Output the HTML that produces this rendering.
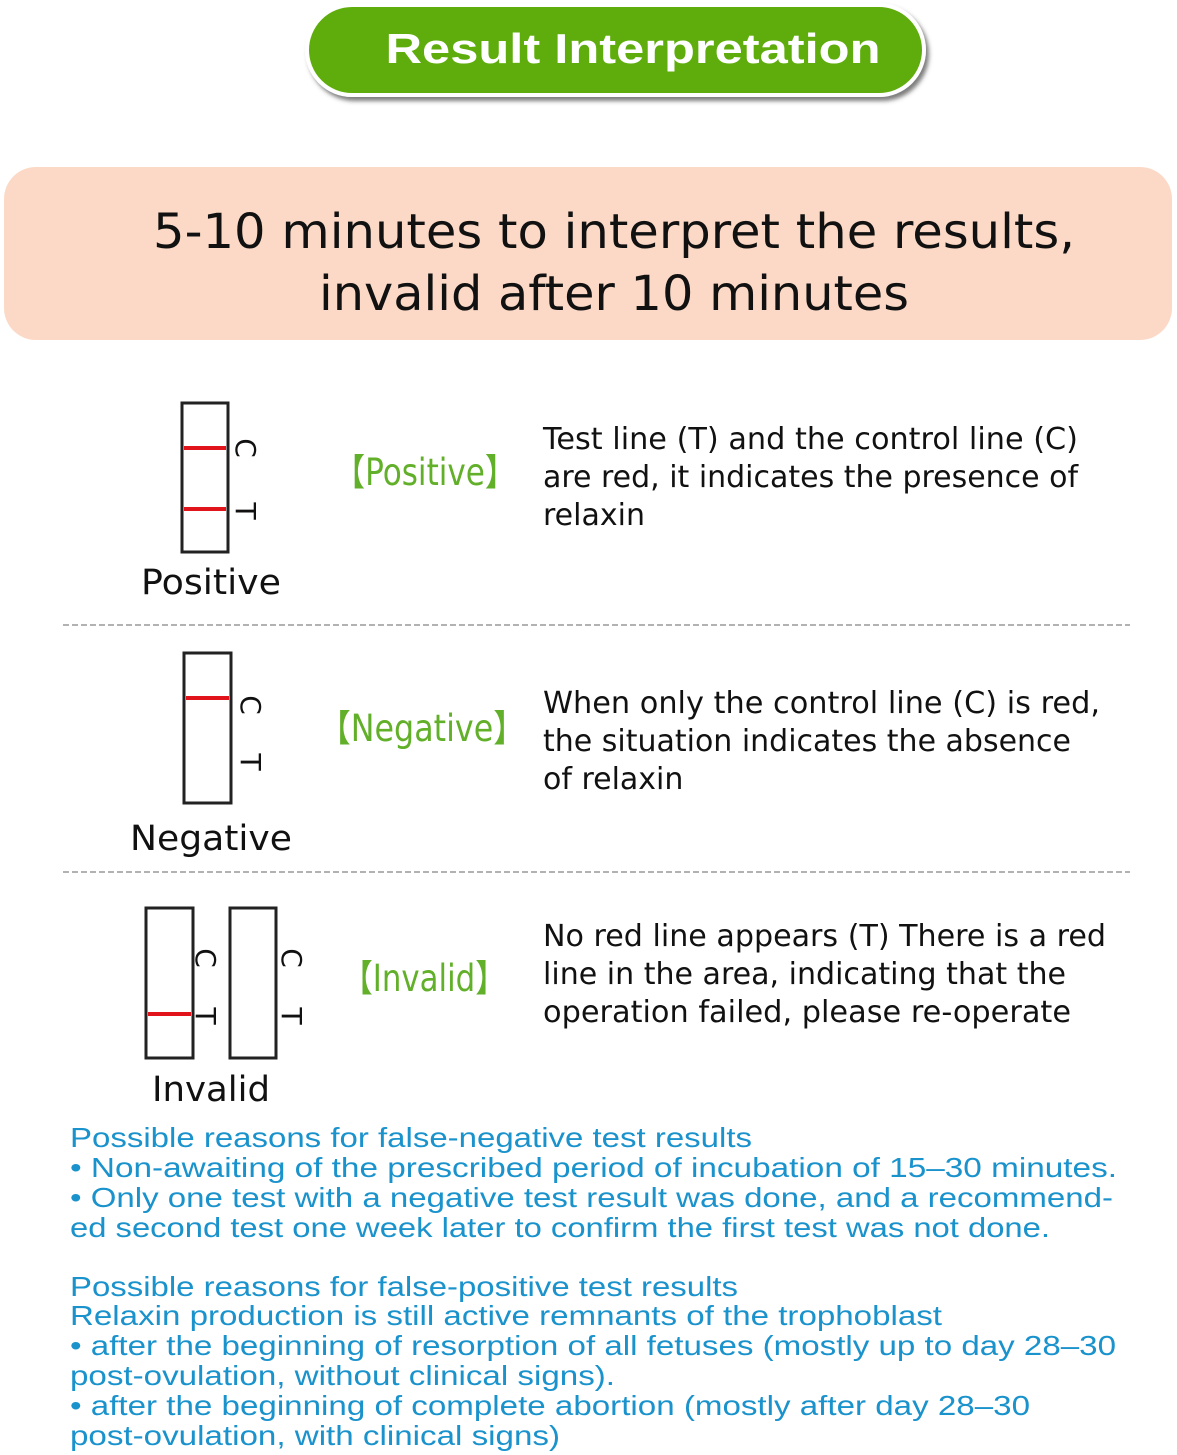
<!DOCTYPE html>
<html><head><meta charset="utf-8"><style>
html,body{margin:0;padding:0;background:#fff;}
svg{display:block;}
.d{font-family:"DejaVu Sans","Liberation Sans",sans-serif;fill:#111;}
.b{font-family:"Liberation Sans",Arial,sans-serif;fill:#1a92cc;font-size:28px;}
.g{font-family:"DejaVu Sans","Liberation Sans","Noto Sans CJK SC",sans-serif;fill:#62b02a;font-size:37px;}
</style></head><body>
<svg width="1177" height="1455" viewBox="0 0 1177 1455" xmlns="http://www.w3.org/2000/svg">
<defs><filter id="sh" x="-10%" y="-30%" width="120%" height="160%"><feDropShadow dx="3" dy="4" stdDeviation="2" flood-color="#444" flood-opacity="0.7"/></filter></defs>
<rect x="307" y="5" width="617" height="90" rx="45" fill="#5fad0a" stroke="#fff" stroke-width="4" filter="url(#sh)"/>
<text x="633" y="63" text-anchor="middle" font-family="'Liberation Sans',Arial,sans-serif" font-weight="bold" font-size="42" fill="#fff" textLength="495" lengthAdjust="spacingAndGlyphs">Result Interpretation</text>
<rect x="4" y="167" width="1168" height="173" rx="32" fill="#fbd9c6"/>
<text class="d" x="614" y="248" text-anchor="middle" font-size="48" textLength="922" lengthAdjust="spacingAndGlyphs">5-10 minutes to interpret the results,</text>
<text class="d" x="614" y="310" text-anchor="middle" font-size="48" textLength="590" lengthAdjust="spacingAndGlyphs">invalid after 10 minutes</text>
<g stroke="#222" stroke-width="3" fill="none">
<rect x="182" y="403" width="46" height="149"/>
<rect x="184" y="653" width="47" height="150"/>
<rect x="146" y="908" width="47" height="150"/>
<rect x="230" y="908" width="46" height="150"/>
</g>
<g stroke="#e0141a" stroke-width="4">
<line x1="184" y1="448" x2="226" y2="448"/><line x1="184" y1="509" x2="226" y2="509"/>
<line x1="186" y1="698" x2="229" y2="698"/>
<line x1="148" y1="1014" x2="191" y2="1014"/>
</g>
<g class="d" font-size="28">
<text transform="translate(236,448) rotate(90)" text-anchor="middle">C</text>
<text transform="translate(236,511) rotate(90)" text-anchor="middle">T</text>
<text transform="translate(241,705) rotate(90)" text-anchor="middle">C</text>
<text transform="translate(241,762) rotate(90)" text-anchor="middle">T</text>
<text transform="translate(196,958) rotate(90)" text-anchor="middle">C</text>
<text transform="translate(196,1016) rotate(90)" text-anchor="middle">T</text>
<text transform="translate(282,958) rotate(90)" text-anchor="middle">C</text>
<text transform="translate(282,1016) rotate(90)" text-anchor="middle">T</text>
</g>
<g class="d" font-size="35" text-anchor="middle">
<text x="211" y="594" textLength="140" lengthAdjust="spacingAndGlyphs">Positive</text>
<text x="211" y="850" textLength="162" lengthAdjust="spacingAndGlyphs">Negative</text>
<text x="211" y="1101" textLength="118" lengthAdjust="spacingAndGlyphs">Invalid</text>
</g>
<text class="g" x="425" y="485" text-anchor="middle" textLength="182" lengthAdjust="spacingAndGlyphs">【Positive】</text>
<text class="g" x="422" y="741" text-anchor="middle" textLength="206" lengthAdjust="spacingAndGlyphs">【Negative】</text>
<text class="g" x="424" y="991" text-anchor="middle" textLength="164" lengthAdjust="spacingAndGlyphs">【Invalid】</text>
<g class="d" font-size="30">
<text x="543" y="449" textLength="535" lengthAdjust="spacingAndGlyphs">Test line (T) and the control line (C)</text>
<text x="543" y="487" textLength="535" lengthAdjust="spacingAndGlyphs">are red, it indicates the presence of</text>
<text x="543" y="525">relaxin</text>
<text x="543" y="713" textLength="557" lengthAdjust="spacingAndGlyphs">When only the control line (C) is red,</text>
<text x="543" y="751" textLength="528" lengthAdjust="spacingAndGlyphs">the situation indicates the absence</text>
<text x="543" y="789">of relaxin</text>
<text x="543" y="946" textLength="563" lengthAdjust="spacingAndGlyphs">No red line appears (T) There is a red</text>
<text x="543" y="984" textLength="523" lengthAdjust="spacingAndGlyphs">line in the area, indicating that the</text>
<text x="543" y="1022" textLength="528" lengthAdjust="spacingAndGlyphs">operation failed, please re-operate</text>
</g>
<g stroke="#999" stroke-width="1.5" stroke-dasharray="6,3">
<line x1="63" y1="625" x2="1130" y2="625"/>
<line x1="63" y1="872" x2="1130" y2="872"/>
</g>
<g class="b">
<text x="70" y="1147" textLength="682" lengthAdjust="spacingAndGlyphs">Possible reasons for false-negative test results</text>
<text x="70" y="1177" textLength="1047" lengthAdjust="spacingAndGlyphs">• Non-awaiting of the prescribed period of incubation of 15–30 minutes.</text>
<text x="70" y="1207" textLength="1043" lengthAdjust="spacingAndGlyphs">• Only one test with a negative test result was done, and a recommend-</text>
<text x="70" y="1237" textLength="980" lengthAdjust="spacingAndGlyphs">ed second test one week later to confirm the first test was not done.</text>
<text x="70" y="1296" textLength="668" lengthAdjust="spacingAndGlyphs">Possible reasons for false-positive test results</text>
<text x="70" y="1325" textLength="872" lengthAdjust="spacingAndGlyphs">Relaxin production is still active remnants of the trophoblast</text>
<text x="70" y="1355" textLength="1046" lengthAdjust="spacingAndGlyphs">• after the beginning of resorption of all fetuses (mostly up to day 28–30</text>
<text x="70" y="1385" textLength="545" lengthAdjust="spacingAndGlyphs">post-ovulation, without clinical signs).</text>
<text x="70" y="1415" textLength="960" lengthAdjust="spacingAndGlyphs">• after the beginning of complete abortion (mostly after day 28–30</text>
<text x="70" y="1445" textLength="490" lengthAdjust="spacingAndGlyphs">post-ovulation, with clinical signs)</text>
</g>
</svg>
</body></html>
